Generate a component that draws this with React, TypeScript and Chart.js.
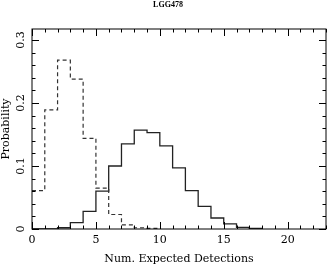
import React, { useEffect, useRef } from "react";
import { Chart, registerables } from "chart.js";

Chart.register(...registerables);

const titleText = "LGG478";
const xAxisTitle = "Num. Expected Detections";
const yAxisTitle = "Probability";

// bin left edges (unit-width bins)
const binEdges = [0, 1, 2, 3, 4, 5, 6, 7, 8, 9, 10, 11, 12, 13, 14, 15, 16, 17, 18, 19, 20];

// dashed histogram (bins 0-1 ... 9-10)
const dashedValues = [0.061, 0.189, 0.268, 0.238, 0.144, 0.065, 0.023, 0.0065, 0.002, 0.001];

// solid histogram (bins 0-1 ... 17-18)
const solidValues = [
  0, 0, 0.002, 0.01, 0.028, 0.06, 0.1, 0.135, 0.157, 0.153, 0.132, 0.097, 0.061, 0.036,
  0.0175, 0.008, 0.0026, 0.001,
];

const xTickValues = [0, 5, 10, 15, 20];
const xTickLabels = ["0", "5", "10", "15", "20"];
const yTickValues = [0, 0.1, 0.2, 0.3];
const yTickLabels = ["0", "0.1", "0.2", "0.3"];

const X_MIN = 0;
const X_MAX = 23;
const Y_MIN = 0;
const Y_MAX = 0.3175;

function stepPoints(values: number[]) {
  const pts = [] as { x: number; y: number }[];
  for (let i = 0; i <= values.length; i++) {
    pts.push({ x: binEdges[i], y: i < values.length ? values[i] : 0 });
  }
  return pts;
}

const SERIF = '"DejaVu Serif", serif';

const framePlugin = {
  id: "framePlugin",
  afterDraw(chart: any) {
    const ctx = chart.ctx as CanvasRenderingContext2D;
    const { left, right, top, bottom } = chart.chartArea;
    const xs = chart.scales.x;
    const ys = chart.scales.y;
    ctx.save();
    ctx.strokeStyle = "#000";
    ctx.lineWidth = 1;
    ctx.setLineDash([]);
    ctx.strokeRect(left, top, right - left, bottom - top);

    const major = 7;
    const minor = 3.5;
    ctx.beginPath();
    for (let v = X_MIN; v <= X_MAX; v += 1) {
      const px = Math.round(xs.getPixelForValue(v)) + 0.5;
      const len = xTickValues.includes(v) ? major : minor;
      ctx.moveTo(px, bottom);
      ctx.lineTo(px, bottom - len);
      ctx.moveTo(px, top);
      ctx.lineTo(px, top + len);
    }
    for (let k = 0; k <= 15; k++) {
      const v = k * 0.02;
      const py = Math.round(ys.getPixelForValue(v)) + 0.5;
      const len = k % 5 === 0 ? major : minor;
      ctx.moveTo(left, py);
      ctx.lineTo(left + len, py);
      ctx.moveTo(right, py);
      ctx.lineTo(right - len, py);
    }
    ctx.stroke();

    ctx.fillStyle = "#000";
    ctx.font = "11px " + SERIF;
    ctx.textAlign = "center";
    ctx.textBaseline = "middle";
    xTickValues.forEach((v, i) => {
      ctx.fillText(xTickLabels[i], xs.getPixelForValue(v), 240);
    });
    ctx.fillText(xAxisTitle, (left + right) / 2, 259.5);

    yTickValues.forEach((v, i) => {
      ctx.save();
      ctx.translate(21, ys.getPixelForValue(v));
      ctx.rotate(-Math.PI / 2);
      ctx.fillText(yTickLabels[i], 0, 0);
      ctx.restore();
    });
    ctx.save();
    ctx.translate(6.5, (top + bottom) / 2);
    ctx.rotate(-Math.PI / 2);
    ctx.fillText(yAxisTitle, 0, 0);
    ctx.restore();

    ctx.font = 'bold 8px "Liberation Serif", serif';
    ctx.fillText(titleText, 168, 4.5);
    ctx.restore();
  },
};

export default function App() {
  const ref = useRef<HTMLCanvasElement | null>(null);
  useEffect(() => {
    document.body.style.margin = "0";
    const canvas = ref.current!;
    const chart = new Chart(canvas, {
      type: "line",
      data: {
        datasets: [
          {
            label: "dashed",
            data: stepPoints(dashedValues),
            stepped: "before",
            borderColor: "#333",
            borderWidth: 1.2,
            borderDash: [4, 3],
            pointRadius: 0,
            fill: false,
          },
          {
            label: "solid",
            data: stepPoints(solidValues),
            stepped: "before",
            borderColor: "#222",
            borderWidth: 1.3,
            pointRadius: 0,
            fill: false,
          },
        ],
      },
      options: {
        responsive: false,
        animation: false,
        devicePixelRatio: 1,
        layout: { padding: { left: 32, right: 1, top: 29, bottom: 38 } },
        plugins: { legend: { display: false }, tooltip: { enabled: false }, title: { display: false } },
        scales: {
          x: { type: "linear", min: X_MIN, max: X_MAX, display: false },
          y: { type: "linear", min: Y_MIN, max: Y_MAX, display: false },
        },
      },
      plugins: [framePlugin],
    });
    return () => chart.destroy();
  }, []);
  return (
    <div style={{ position: "absolute", left: 0, top: 0, width: 327, height: 267, background: "#fff" }}>
      <canvas ref={ref} width={327} height={267} style={{ display: "block" }} />
    </div>
  );
}
